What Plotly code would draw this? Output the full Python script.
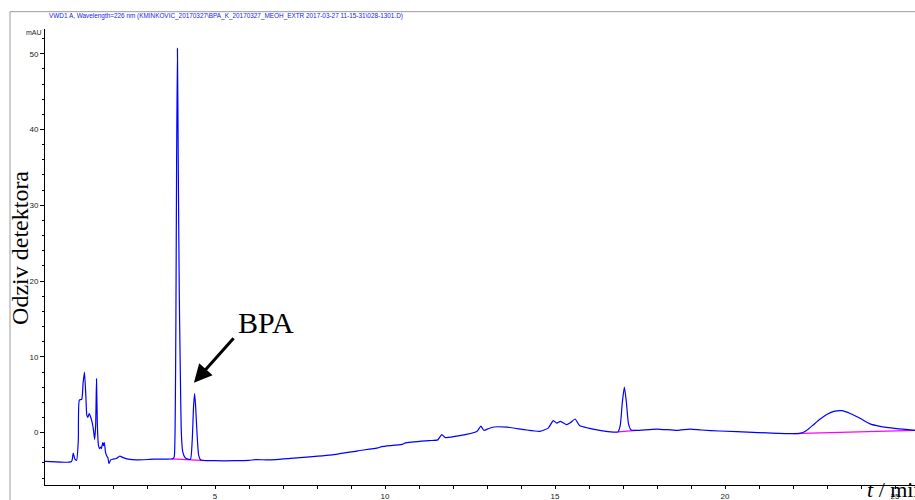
import plotly.graph_objects as go

# chromatogram trace (time in min, response in mAU)
time_min = [0.0, 0.78, 0.83, 0.88, 0.93, 0.98, 1.01, 1.08, 1.12, 1.16, 1.20, 1.23, 1.26, 1.30, 1.34,
            1.39, 1.43, 1.46, 1.49, 1.515, 1.54, 1.57, 1.61, 1.64, 1.66, 1.70, 1.72, 1.745, 1.78,
            1.82, 1.85, 1.88, 1.93, 2.0, 2.1, 2.2, 2.3, 2.45, 2.7, 3.2, 3.76, 3.80, 3.83, 3.85,
            3.87, 3.895, 3.92, 3.95, 3.98, 4.01, 4.05, 4.12, 4.2, 4.28, 4.33, 4.37, 4.40, 4.43,
            4.47, 4.52, 4.58, 5.0, 5.6, 6.0, 6.2, 6.6, 7.5, 8.5, 9.2, 9.8, 9.9, 10.5, 10.6, 11.3,
            11.55, 11.67, 11.77, 12.2, 12.7, 12.82, 12.91, 13.05, 13.2, 13.6, 14.1, 14.55, 14.8,
            14.95, 15.05, 15.16, 15.34, 15.45, 15.59, 15.72, 15.98, 16.32, 16.85, 16.92, 16.98,
            17.04, 17.10, 17.16, 17.24, 17.4, 17.99, 18.6, 18.97, 19.3, 19.85, 20.83, 21.81, 22.2,
            22.4, 22.6, 22.8, 22.99, 23.2, 23.43, 23.7, 23.97, 24.25, 24.56, 25.05, 25.59]
signal_mau = [-3.8, -3.8, -2.7, -3.5, -3.65, -1.0, 4.3, 4.4, 6.5, 8.0, 5.0, 2.3, 2.0, 2.5, 2.1,
              1.3, 0.2, -0.9, 1.0, 7.1, 1.0, -1.6, -2.1, -1.9, -2.1, -1.3, -1.7, -1.3, -2.6,
              -3.1, -3.3, -4.1, -3.6, -3.5, -3.4, -3.1, -3.3, -3.5, -3.6, -3.5, -3.45, -3.2, 2.0, 15.0,
              35.0, 50.7, 35.0, 18.0, 8.0, 0.0, -2.5, -3.3, -3.5, -3.5, -1.0, 3.5, 5.15, 3.5,
              0.0, -3.0, -3.6, -3.7, -3.7, -3.65, -3.55, -3.6, -3.3, -2.9, -2.4, -2.0, -1.85, -1.55, -1.35, -1.05,
              -0.95, -0.25, -0.65, -0.4, 0.15, 0.85, 0.3, 0.55, 0.75, 0.72, 0.4, 0.17, 0.6,
              1.6, 1.25, 1.5, 1.05, 1.3, 1.8, 0.95, 0.6, 0.3, 0.1, 1.0, 4.0,
              6.0, 4.0, 1.2, 0.35, 0.3, 0.48, 0.3, 0.48, 0.35, 0.22, 0.04, -0.13, -0.1,
              0.3, 1.05, 1.8, 2.4, 2.8, 2.9, 2.5, 1.9, 1.2, 0.83, 0.53, 0.3]

# integration baselines (magenta)
base1_t = [3.72, 4.75]
base1_v = [-3.45, -3.7]
base2_t = [16.85, 17.4]
base2_v = [0.1, 0.3]
base3_t = [22.0, 25.59]
base3_v = [-0.12, 0.3]

x_ticks = [5, 10, 15, 20, 25]
x_minor = list(range(1, 26))
y_ticks = [0, 10, 20, 30, 40, 50]
y_minor = [v for v in range(-6, 53, 2) if v % 10 != 0]

title_text = ("VWD1 A, Wavelength=226 nm (KMINKOVIC_20170327\\BPA_K_20170327_MEOH_EXTR "
              "2017-03-27 11-15-31\\028-1301.D)")

fig = go.Figure()
for bt, bv in [(base1_t, base1_v), (base2_t, base2_v), (base3_t, base3_v)]:
    fig.add_trace(go.Scatter(x=bt, y=bv, mode="lines",
                             line=dict(color="#ff00ff", width=1.2), hoverinfo="skip"))
fig.add_trace(go.Scatter(x=time_min, y=signal_mau, mode="lines",
                         line=dict(color="#0000ff", width=1.2, shape="spline", smoothing=0.5),
                         hoverinfo="skip"))

tickfont = dict(family="Liberation Sans, Arial", size=8, color="#222222")
fig.update_layout(
    width=915, height=500, autosize=False,
    margin=dict(l=45, r=0, t=29, b=15, autoexpand=False),
    paper_bgcolor="white", plot_bgcolor="white",
    showlegend=False, hovermode=False,
    xaxis=dict(range=[0, 25.588], showgrid=False, zeroline=False, automargin=False,
               showline=True, linecolor="black", linewidth=1,
               tickmode="array", tickvals=x_ticks, ticks="outside", ticklen=3,
               tickcolor="black", tickfont=tickfont,
               minor=dict(tickmode="array", tickvals=x_minor, ticks="outside",
                          ticklen=3, tickcolor="black")),
    yaxis=dict(range=[-6.905, 53.26], showgrid=False, zeroline=False, automargin=False,
               showline=True, linecolor="black", linewidth=1,
               tickmode="array", tickvals=y_ticks, ticks="outside", ticklen=4,
               tickcolor="black", tickfont=tickfont,
               minor=dict(tickmode="array", tickvals=y_minor, ticks="outside",
                          ticklen=2, tickcolor="black")),
    shapes=[
        dict(type="line", xref="paper", yref="paper", x0=-0.0402, y0=1.038, x1=1.1, y1=1.038,
             line=dict(color="#9a9a9a", width=1)),
        dict(type="line", xref="paper", yref="paper", x0=-0.0402, y0=1.038, x1=-0.0402, y1=-0.1,
             line=dict(color="#9a9a9a", width=1)),
    ],
    annotations=[
        dict(text=title_text, xref="paper", yref="paper", x=0.0023, y=1.029,
             xanchor="left", yanchor="middle", showarrow=False,
             font=dict(family="Liberation Sans, Arial", size=6.4, color="#2020e6")),
        dict(text="mAU", xref="paper", yref="paper", x=-0.0126, y=0.992,
             xanchor="center", yanchor="middle", showarrow=False,
             font=dict(family="Liberation Sans, Arial", size=7, color="#222222")),
        dict(text="Odziv detektora", xref="paper", yref="paper", x=-0.0287, y=0.52,
             xanchor="center", yanchor="middle", showarrow=False, textangle=-90,
             font=dict(family="Liberation Serif, Times New Roman", size=24, color="black")),
        dict(text="<i>t</i> / min", xref="paper", yref="paper", x=0.9425, y=-0.0088,
             xanchor="left", yanchor="middle", showarrow=False,
             font=dict(family="Liberation Serif, Times New Roman", size=22, color="black")),
        dict(text="BPA", xref="x", yref="y", x=6.5, y=14.6,
             xanchor="center", yanchor="middle", showarrow=False,
             font=dict(family="Liberation Serif, Times New Roman", size=30, color="black")),
        dict(text="", xref="x", yref="y", x=4.38, y=6.6, showarrow=True,
             ax=41, ay=-46, arrowhead=2, arrowsize=1.2, arrowwidth=3, arrowcolor="black"),
    ],
)

fig.write_html("out.html", config={"displayModeBar": False, "staticPlot": True},
               post_script="document.body.style.margin='0';document.body.style.overflow='hidden';")
